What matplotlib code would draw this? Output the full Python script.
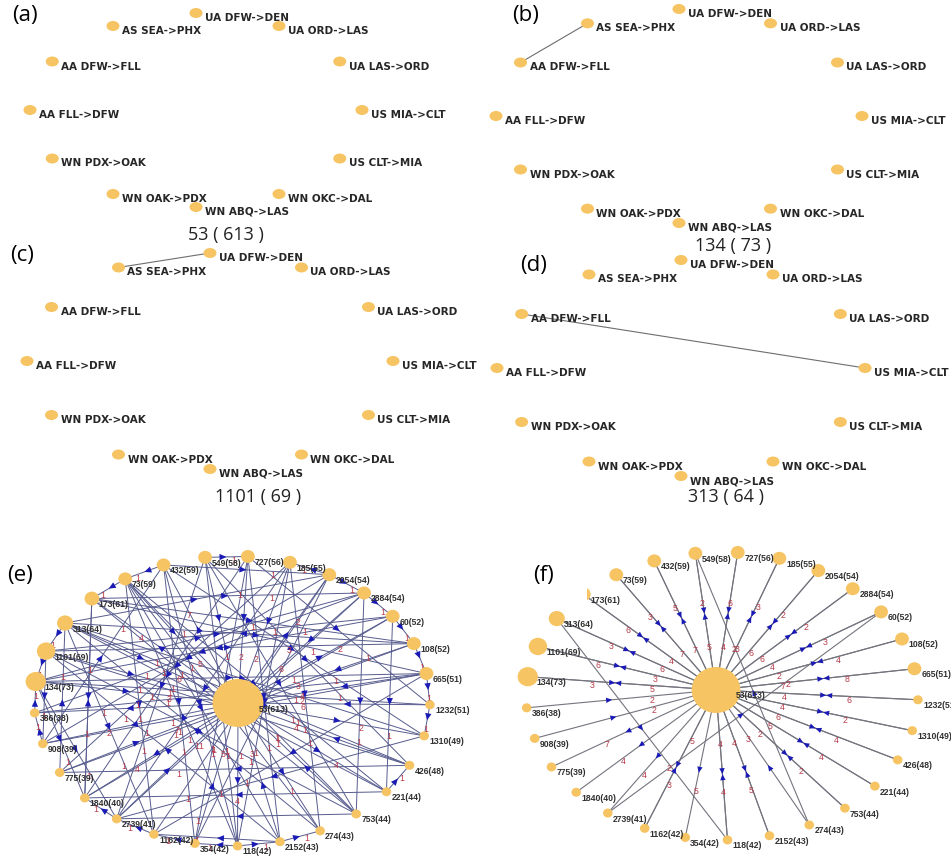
import numpy as np
import matplotlib.pyplot as plt
from matplotlib.patches import Ellipse, Polygon, Rectangle

# ---- data -------------------------------------------------------------
# routes of the small communities, clockwise from the top
routes = ["UA DFW->DEN", "UA ORD->LAS", "UA LAS->ORD", "US MIA->CLT", "US CLT->MIA",
          "WN OKC->DAL", "WN ABQ->LAS", "WN OAK->PDX", "WN PDX->OAK", "AA FLL->DFW",
          "AA DFW->FLL", "AS SEA->PHX"]
community_ids = ["53", "134", "1101", "313"]
community_sizes = [613, 73, 69, 64]
community_links = [
    [],
    [("AA DFW->FLL", "AS SEA->PHX")],
    [("AS SEA->PHX", "UA DFW->DEN")],
    [("AA DFW->FLL", "US MIA->CLT")],
]

# community graph: hub plus the ring of communities (counter-clockwise)
hub_id, hub_size = "53", 613
ring_ids = ["665", "108", "60", "2884", "2054", "185", "727", "549", "432", "73",
            "173", "313", "1101", "134", "386", "908", "775", "1840", "2739", "1162",
            "354", "118", "2152", "274", "753", "221", "426", "1310", "1232"]
ring_sizes = [51, 52, 52, 54, 54, 55, 56, 58, 59, 59,
              61, 64, 69, 73, 38, 39, 39, 40, 41, 42,
              42, 42, 43, 43, 44, 44, 48, 49, 51]

# (e) all shared-route links (source, target, weight)
e_links = [
    ("134", "53", 3), ("313", "53", 6), ("1101", "53", 1), ("73", "53", 5), ("549", "53", 1),
    ("727", "53", 2), ("185", "53", 2), ("2884", "53", 6), ("108", "53", 3), ("665", "53", 4),
    ("1232", "53", 6), ("426", "53", 4), ("753", "53", 1), ("2152", "53", 3), ("354", "53", 5),
    ("2739", "53", 1), ("775", "53", 7), ("53", "1840", 4), ("53", "908", 2), ("53", "221", 4),
    ("53", "118", 4), ("53", "432", 7), ("53", "173", 4), ("53", "60", 2), ("53", "1310", 2),
    ("53", "2054", 2), ("53", "386", 1), ("53", "274", 1),
    ("134", "1232", 1), ("134", "665", 1), ("134", "2884", 1), ("134", "1840", 1), ("134", "2739", 1),
    ("386", "134", 1), ("1101", "134", 1), ("1101", "108", 3), ("1101", "60", 1), ("1101", "753", 1),
    ("1101", "908", 1), ("313", "426", 1), ("313", "2054", 1), ("313", "1162", 1), ("313", "221", 1),
    ("313", "1310", 2), ("313", "1101", 1), ("173", "108", 1), ("173", "2884", 1), ("173", "1840", 1),
    ("173", "665", 1), ("73", "173", 1), ("73", "1162", 1), ("73", "2152", 1), ("73", "221", 1),
    ("432", "73", 1), ("73", "753", 1), ("432", "354", 1), ("432", "2054", 1), ("432", "1310", 1),
    ("432", "118", 1), ("549", "727", 1), ("549", "2739", 1), ("549", "118", 1), ("549", "753", 1),
    ("549", "426", 1), ("727", "1840", 1), ("727", "2152", 1), ("727", "354", 1), ("727", "1232", 1),
    ("185", "775", 1), ("185", "118", 1), ("185", "274", 1), ("185", "2739", 1), ("2054", "185", 1),
    ("2054", "908", 1), ("2054", "354", 1), ("2054", "1162", 1), ("2054", "2884", 1), ("2884", "386", 1),
    ("2884", "2739", 1), ("2884", "753", 1), ("2884", "60", 1), ("60", "134", 1), ("60", "1840", 1),
    ("60", "221", 1), ("60", "108", 1), ("108", "775", 1), ("108", "313", 1), ("108", "665", 1),
    ("665", "908", 1), ("665", "386", 1), ("665", "1162", 1), ("665", "1232", 1), ("1232", "1310", 1),
    ("1310", "2739", 1), ("426", "1101", 1), ("426", "775", 1), ("221", "426", 1), ("221", "1840", 1),
    ("753", "173", 1), ("753", "2739", 1), ("274", "313", 1), ("2152", "274", 1), ("274", "73", 1),
    ("2152", "1162", 1), ("2152", "1101", 1), ("118", "2152", 1), ("118", "354", 1), ("118", "73", 1),
    ("354", "1162", 1), ("1162", "2739", 1), ("2739", "1840", 1), ("1840", "173", 1), ("775", "313", 1),
    ("908", "386", 1), ("908", "432", 1),
]

# (f) links with the hub: weight into hub, weight out of hub (None = no link)
f_to_hub = {"549": 5, "727": 4, "185": 3, "2054": 6, "2884": 6, "60": 4, "108": 2, "665": 7,
            "1232": 4, "1310": 4, "426": 6, "221": 5, "753": 2, "274": 3, "2152": 4, "118": 4,
            "1162": 5, "386": 2, "908": 2, "134": 5, "1101": 3, "313": 6, "173": 4, "73": 7,
            "432": 7}
f_from_hub = {"549": 2, "727": 6, "185": 3, "2054": 2, "2884": 2, "60": 3, "108": 4, "665": 8,
              "1232": 6, "1310": 2, "426": 4, "221": 4, "753": 2, "2152": 5, "118": 4, "354": 5,
              "1162": 3, "2739": 4, "1840": 4, "775": 7, "134": 3, "1101": 6, "313": 3,
              "173": 6, "73": 3, "432": 5}
f_extra = [("313", "118", 2), ("274", "549", 2), ("2739", "60", 2)]

# ---- style ------------------------------------------------------------
NODE = "#F6C462"
EDGE_GRAY = "#6E6E6E"
ARROW = "#1A1AB4"
WEIGHT = "#B83A4A"
TEXT = "#262626"
W, H = 951, 861

fig = plt.figure(figsize=(W / 100, H / 100), dpi=100)
ax = fig.add_axes([0, 0, 1, 1])
ax.set_xlim(0, W)
ax.set_ylim(H, 0)
ax.axis("off")


def ellipse_pos(n, cx, cy, rx, ry, start, ccw=True):
    step = 360.0 / n * (1 if ccw else -1)
    ang = np.radians(start + step * np.arange(n))
    return np.c_[cx + rx * np.cos(ang), cy - ry * np.sin(ang)]


# ---- panels (a)-(d) ---------------------------------------------------
small_layout = [
    # letter xy, ellipse cx, cy, rx, ry, caption xy
    ((12, 16), (196, 110, 166, 97), (226, 235)),
    ((512, 15), (679, 116, 183, 107), (733, 246)),
    ((10, 256), (210, 361, 183, 108), (258, 497)),
    ((520, 266), (681, 368, 184, 108), (726, 497)),
]
for i, (lxy, (cx, cy, rx, ry), capxy) in enumerate(small_layout):
    pos = dict(zip(routes, ellipse_pos(len(routes), cx, cy, rx, ry, 90, ccw=False)))
    for a, b in community_links[i]:
        ax.plot([pos[a][0], pos[b][0]], [pos[a][1], pos[b][1]],
                color=EDGE_GRAY, lw=0.8, zorder=1)
    for name, (x, y) in pos.items():
        ax.add_patch(Ellipse((x, y), 13, 10, color=NODE, zorder=3, lw=0))
        ax.text(x + 9, y + 5, name, fontsize=7.5, fontweight="bold", color=TEXT,
                family="DejaVu Sans", ha="left", va="center", zorder=4)
    ax.text(lxy[0], lxy[1], "(%s)" % "abcd"[i], fontsize=16, family="Open Sans",
            ha="left", va="center", color="black")
    ax.text(capxy[0], capxy[1], "%s ( %d )" % (community_ids[i], community_sizes[i]),
            fontsize=13, family="Open Sans", ha="center", va="center", color="#222222")


# ---- panels (e) and (f) -----------------------------------------------
vals = np.array(ring_sizes)
order = np.argsort(-vals, kind="stable")
rank = np.empty(len(vals), int)
rank[order] = np.arange(len(vals))
radius = {n: (6.5 + 0.22 * max(0, v - 59)) if rank[k] < 14 else 4.5
          for k, (n, v) in enumerate(zip(ring_ids, ring_sizes))}


def draw_link(pos, rad, s, t, w, color, lw, head=6.0):
    p, q = np.array(pos[s]), np.array(pos[t])
    d = q - p
    u = d / np.hypot(*d)
    nrm = np.array([-u[1], u[0]])
    ax.plot([p[0], q[0]], [p[1], q[1]], color=color, lw=lw, zorder=1)
    a, b = p + u * rad[s], q - u * rad[t]
    tip = (a + b) / 2
    tri = [tip, tip - u * head + nrm * head * 0.45, tip - u * head - nrm * head * 0.45]
    ax.add_patch(Polygon(tri, closed=True, facecolor=ARROW, lw=0, zorder=2))
    lab = p + 0.66 * d
    ax.text(lab[0], lab[1] + 4, str(w), color=WEIGHT, fontsize=6.3,
            family="Liberation Sans", ha="center", va="center", zorder=2.5)


def draw_nodes(pos, rad):
    for n, (x, y) in pos.items():
        r = rad[n]
        ax.add_patch(Ellipse((x, y), 2 * r * 1.06, 2 * r, color=NODE, lw=0, zorder=5))
        val = hub_size if n == hub_id else ring_sizes[ring_ids.index(n)]
        ax.text(x + 0.8 * r + 1.5, y + 6, "%s(%d)" % (n, val), fontsize=6.2,
                fontweight="bold", family="Liberation Sans", color="#303030",
                ha="left", va="center", zorder=6)


big_layout = [
    # ring cx, cy, rx, ry, hub offset, hub radius, letter xy
    ((232, 701, 198, 145), (6, 2), 24, (7, 576)),
    ((722, 696, 196, 144), (-6, -6), 23, (533, 575)),
]
for j, ((cx, cy, rx, ry), off, hub_r, lxy) in enumerate(big_layout):
    pos = dict(zip(ring_ids, ellipse_pos(len(ring_ids), cx, cy, rx, ry,
                                         -1.5 + 360.0 / len(ring_ids))))
    pos[hub_id] = np.array([cx + off[0], cy + off[1]])
    rad = dict(radius)
    rad[hub_id] = hub_r
    if j == 0:
        for s, t, w in e_links:
            draw_link(pos, rad, s, t, w, "#575C8E", 0.7, head=7.0)
    else:
        for n in ring_ids:
            if n in f_to_hub:
                draw_link(pos, rad, n, hub_id, f_to_hub[n], "#74747F", 0.8)
            if n in f_from_hub:
                draw_link(pos, rad, hub_id, n, f_from_hub[n], "#74747F", 0.8)
        for s, t, w in f_extra:
            draw_link(pos, rad, s, t, w, "#74747F", 0.8)
    draw_nodes(pos, rad)
    if j == 1:
        ax.add_patch(Rectangle((480, 530), 107, 75, facecolor="white", lw=0, zorder=7))
    ax.text(lxy[0], lxy[1], "(%s)" % "ef"[j], fontsize=16, family="Open Sans",
            ha="left", va="center", color="black", zorder=8)

fig.savefig("out.png", dpi=100)
